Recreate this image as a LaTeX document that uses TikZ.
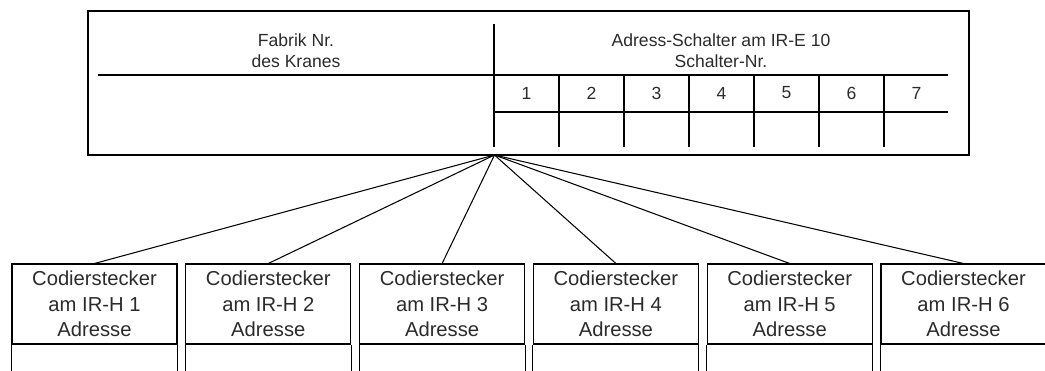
\documentclass[tikz,border=0pt]{standalone}
\usepackage{fontspec}
\setmainfont{Liberation Sans}
\usetikzlibrary{positioning}
\definecolor{textgray}{HTML}{2B2B2B}

\begin{document}
\begin{tikzpicture}[
    x=0.02cm, y=-0.02cm,
    line width=0.6pt,
    titel/.style={
      align=center,
      inner sep=0pt,
      text=textgray,
      font=\fontsize{10}{12}\selectfont
    },
    codier/.style={
      draw,
      minimum width=3.3cm,
      minimum height=1.6cm,
      align=center,
      inner sep=0pt,
      text=textgray,
      font=\fontsize{11.5}{14.5}\selectfont
    },
    link/.style={
      line width=0.6pt
    }
  ]
  \useasboundingbox (0,0) rectangle (1045,370);

  % Tabelle oben
  \node[draw, line width=0.8pt, minimum width=17.62cm, minimum height=2.88cm] (tafel) at (528.5,83) {};
  \draw (98,75) -- (948,75);
  \draw (494,112) -- (948,112);
  \draw (494,24) -- (494,147);
  \foreach \i in {1,...,6}
    \draw ({494+65*\i},75) -- ({494+65*\i},147);

  \node[titel] (fabrik) at (296,51) {Fabrik Nr.\\des Kranes};
  \node[titel] (adress) at (721,51) {Adress-Schalter am IR-E 10\\Schalter-Nr.};
  \foreach \i in {1,...,7}
    \node[titel] (nr\i) at ({494+65*\i-32.5},93) {\i};

  \coordinate (fan) at (494.5,155);

  % Codierstecker unten
  \foreach \i in {1,...,6} {
    \node[codier] (codier\i) at ({94.5+173.8*(\i-1)},304) {Codierstecker\\am IR-H \i\\Adresse};
    \draw (codier\i.south west) -- ++(0,26);
    \draw (codier\i.south east) -- ++(0,26);
    \draw[link] (fan) -- (codier\i.north);
  }

\end{tikzpicture}
\end{document}
